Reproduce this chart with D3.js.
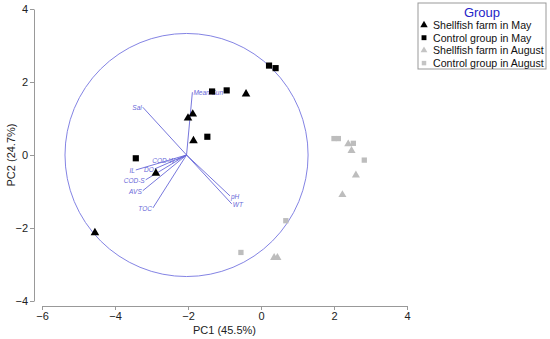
<!DOCTYPE html>
<html>
<head>
<meta charset="utf-8">
<script src="https://cdn.jsdelivr.net/npm/d3@7"></script>
<style>
  body { margin: 0; background: #fff; }
  svg { font-family: "Liberation Sans", Arial, sans-serif; }
</style>
</head>
<body>
<div id="chart"></div>
<script>
var width = 550, height = 339;

// scores
var farmMay = [[-4.55, -2.13], [-0.41, 1.67], [-1.87, 1.12], [-2.0, 1.01], [-1.85, 0.39], [-2.88, -0.50]];
var controlMay = [[0.22, 2.45], [0.40, 2.38], [-1.34, 1.74], [-0.94, 1.77], [-1.47, 0.50], [-3.43, -0.09]];
var farmAug = [[2.39, 0.30], [2.48, 0.12], [2.60, -0.55], [2.23, -1.09], [0.36, -2.81], [0.45, -2.81]];
var controlAug = [[2.0, 0.45], [2.12, 0.45], [2.53, 0.32], [2.83, -0.14], [0.68, -1.80], [-0.55, -2.67]];

var groupNames = ["Shellfish farm in May", "Control group in May", "Shellfish farm in August", "Control group in August"];

// loadings (arrow from circle centre)
var loadNames = ["Mean Sun", "Sal", "COD-W", "DO", "IL", "COD-S", "AVS", "TOC", "pH", "WT"];
var loadX = [0.16, -1.20, -0.29, -0.87, -1.39, -1.12, -1.20, -0.92, 1.19, 1.24];
var loadY = [1.72, 1.31, -0.14, -0.38, -0.41, -0.68, -0.98, -1.45, -1.12, -1.34];
var circleCenter = [-2.04, 0];
var circleRadius = 3.33;

var xTicks = [-6, -4, -2, 0, 2, 4];
var yTicks = [-4, -2, 0, 2, 4];

var svg = d3.select("#chart").append("svg")
    .attr("width", width)
    .attr("height", height);

var x = d3.scaleLinear().domain([-6, 4]).range([42, 407]);
var y = d3.scaleLinear().domain([-4, 4]).range([301, 9]);

var axisColor = "#999";
var blue = "#6868d8";

function minus(d) { return d < 0 ? "\u2212" + Math.abs(d) : d; }

// x axis
var gx = svg.append("g")
    .attr("transform", "translate(0,306)")
    .call(d3.axisBottom(x).tickValues(xTicks).tickSize(4).tickSizeOuter(0));
gx.select(".domain").attr("stroke", axisColor);
gx.selectAll(".tick line").attr("stroke", axisColor);
gx.selectAll(".tick text").attr("font-size", 11).attr("fill", "#222").attr("dy", "0.6em").text(minus);

// y axis
var gy = svg.append("g")
    .attr("transform", "translate(34,0)")
    .call(d3.axisLeft(y).tickValues(yTicks).tickSize(4).tickSizeOuter(0));
gy.select(".domain").attr("stroke", axisColor);
gy.selectAll(".tick line").attr("stroke", axisColor);
gy.selectAll(".tick text").attr("font-size", 11).attr("fill", "#222").attr("x", -6).text(minus);

svg.append("text")
    .attr("x", (x(-6) + x(4)) / 2)
    .attr("y", 334)
    .attr("text-anchor", "middle")
    .attr("font-size", 11)
    .attr("fill", "#222")
    .text("PC1 (45.5%)");

svg.append("text")
    .attr("transform", "translate(15," + (y(-4) + y(4)) / 2 + ") rotate(-90)")
    .attr("text-anchor", "middle")
    .attr("font-size", 11)
    .attr("fill", "#222")
    .text("PC2 (24.7%)");

// correlation circle
svg.append("circle")
    .attr("cx", x(circleCenter[0]))
    .attr("cy", y(circleCenter[1]))
    .attr("r", x(circleCenter[0] + circleRadius) - x(circleCenter[0]))
    .attr("fill", "none")
    .attr("stroke", "#8484e4")
    .attr("stroke-width", 1);

// loading arrows
var loads = loadNames.map(function (n, i) {
    return { name: n, x: circleCenter[0] + loadX[i], y: circleCenter[1] + loadY[i], dx: loadX[i] };
});

svg.selectAll(".load")
    .data(loads)
    .enter()
    .append("line")
    .attr("x1", x(circleCenter[0]))
    .attr("y1", y(circleCenter[1]))
    .attr("x2", function (d) { return x(d.x); })
    .attr("y2", function (d) { return y(d.y); })
    .attr("stroke", blue)
    .attr("stroke-width", 0.9);

svg.selectAll(".loadlab")
    .data(loads)
    .enter()
    .append("text")
    .attr("x", function (d) { return x(d.x) + (d.dx < 0 ? -1 : 1); })
    .attr("y", function (d) { return y(d.y) + 3; })
    .attr("text-anchor", function (d) { return d.dx < 0 ? "end" : "start"; })
    .attr("font-size", 6.5)
    .attr("font-style", "italic")
    .attr("fill", blue)
    .text(function (d) { return d.name; });

// score points
var tri = d3.symbol().type(d3.symbolTriangle);
var sq = d3.symbol().type(d3.symbolSquare);

function drawPoints(data, shape, size, color) {
    svg.append("g").selectAll("path")
        .data(data)
        .enter()
        .append("path")
        .attr("transform", function (d) { return "translate(" + x(d[0]) + "," + y(d[1]) + ")"; })
        .attr("d", shape.size(size)())
        .attr("fill", color);
}

drawPoints(farmAug, tri, 28, "#bdbdbd");
drawPoints(controlAug, sq, 28, "#bdbdbd");
drawPoints(farmMay, tri, 32, "#000");
drawPoints(controlMay, sq, 38, "#000");

// legend
var lg = svg.append("g").attr("transform", "translate(418,3)");
lg.append("rect")
    .attr("width", 128)
    .attr("height", 66)
    .attr("fill", "#fff")
    .attr("stroke", "#999");
lg.append("text")
    .attr("x", 64)
    .attr("y", 14)
    .attr("text-anchor", "middle")
    .attr("font-size", 13)
    .attr("fill", "#2424c8")
    .text("Group");

var legendShapes = [tri.size(24)(), sq.size(24)(), tri.size(20)(), sq.size(20)()];
var legendColors = ["#000", "#000", "#c4c4c4", "#c4c4c4"];

var items = lg.selectAll(".item")
    .data(groupNames)
    .enter()
    .append("g")
    .attr("transform", function (d, i) { return "translate(0," + (22 + i * 12.7) + ")"; });
items.append("path")
    .attr("transform", "translate(6,0)")
    .attr("d", function (d, i) { return legendShapes[i]; })
    .attr("fill", function (d, i) { return legendColors[i]; });
items.append("text")
    .attr("x", 15)
    .attr("y", 4)
    .attr("font-size", 10.6)
    .attr("fill", "#111")
    .text(function (d) { return d; });
</script>
</body>
</html>
